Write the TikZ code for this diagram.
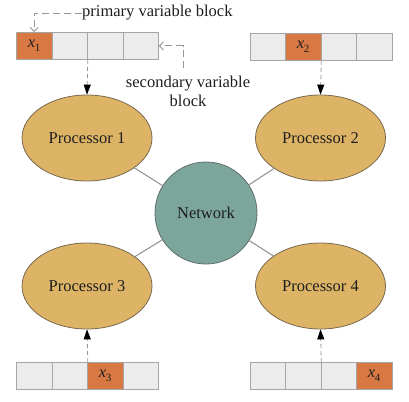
\documentclass[tikz,border=0pt]{standalone}
\usepackage{fontspec}
\setmainfont{Liberation Serif}
\usetikzlibrary{shapes.geometric,arrows.meta}
\definecolor{procfill}{RGB}{221,180,102}
\definecolor{procdraw}{RGB}{120,104,78}
\definecolor{netfill}{RGB}{124,166,156}
\definecolor{netdraw}{RGB}{95,110,106}
\definecolor{cellfill}{RGB}{236,236,236}
\definecolor{celldraw}{RGB}{165,165,165}
\definecolor{hotfill}{RGB}{216,120,66}
\definecolor{txt}{RGB}{30,30,30}
\definecolor{linkc}{RGB}{150,150,150}
\begin{document}
\begin{tikzpicture}[x=1pt,y=-1pt,
  every node/.style={text=txt,font=\fontsize{16.5}{19}\selectfont},
  cell/.style={draw=celldraw,fill=cellfill,line width=0.8pt,minimum width=35.5pt,minimum height=27pt,inner sep=0pt,anchor=north west},
  hot/.style={cell,fill=hotfill},
  proc/.style={ellipse,draw=procdraw,fill=procfill,line width=0.8pt,minimum width=130pt,minimum height=86pt,inner sep=0pt},
  netw/.style={circle,draw=netdraw,fill=netfill,line width=0.8pt,minimum size=102pt,inner sep=0pt},
  link/.style={draw=linkc,line width=1.1pt},
  feed/.style={draw=linkc,line width=0.8pt,dash pattern=on 4pt off 3pt,-{Triangle[width=7pt,length=10pt,color=black]}},
  note/.style={draw=linkc,line width=0.9pt,dash pattern=on 7pt off 4pt,-{Straight Barb[length=4pt,width=8pt,color=linkc]}}
]
\useasboundingbox (0,0) rectangle (409,401);
\newcommand{\xsub}[1]{\textit{x}\kern-0.3pt\raisebox{-0.22em}{\fontsize{11}{11}\selectfont #1}}
% blocks
\node[hot]  (a1) at (16,32)  {\xsub{1}};
\node[cell] (a2) at (51.5,32) {};
\node[cell] (a3) at (87,32)  {};
\node[cell] (a4) at (122.5,32) {};
\node[cell] (b1) at (249.5,33) {};
\node[hot]  (b2) at (285,33) {\xsub{2}};
\node[cell] (b3) at (320.5,33) {};
\node[cell] (b4) at (356,33) {};
\node[cell] (c1) at (16,362) {};
\node[cell] (c2) at (51.5,362) {};
\node[hot]  (c3) at (87,362) {\xsub{3}};
\node[cell] (c4) at (122.5,362) {};
\node[cell] (d1) at (249.5,362) {};
\node[cell] (d2) at (285,362) {};
\node[cell] (d3) at (320.5,362) {};
\node[hot]  (d4) at (356,362) {\xsub{4}};
% processors and network
\node[proc] (p1) at (87,138) {Processor 1};
\node[proc] (p2) at (320.5,138) {Processor 2};
\node[proc] (p3) at (87,286) {Processor 3};
\node[proc] (p4) at (320.5,286) {Processor 4};
\node[netw] (net) at (206,213) {Network};
\path[link] (net) -- (p1);
\path[link] (net) -- (p2);
\path[link] (net) -- (p3);
\path[link] (net) -- (p4);
% feed arrows
\path[feed] (a2.south east) -- (p1.north);
\path[feed] (b2.south east) -- (p2.north);
\path[feed] (c2.north east) -- (p3.south);
\path[feed] (d2.north east) -- (p4.south);
% annotations
\node[anchor=west,inner sep=0pt] (prim) at (82,13) {primary variable block};
\path[note] (prim.west) -| (a1.north);
\node[align=center,inner sep=0pt] (sec) at (188,91) {secondary variable\\block};
\coordinate (sc) at (183,68);
\path[note] (sc) |- (a4.east);
\end{tikzpicture}
\end{document}
